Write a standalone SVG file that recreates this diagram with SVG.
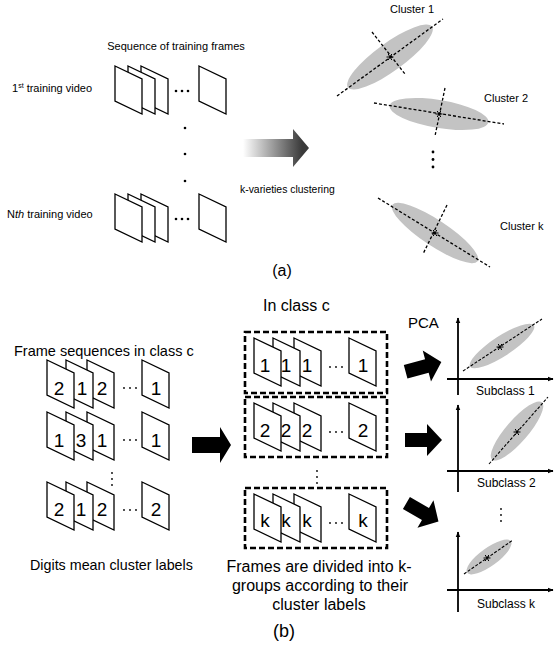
<svg xmlns="http://www.w3.org/2000/svg" xmlns:xlink="http://www.w3.org/1999/xlink" width="554" height="648" viewBox="0 0 554 648">
<style>
text{font-family:"Liberation Sans",Arial,sans-serif;fill:#000}
.frame{fill:#fff;stroke:#000;stroke-width:1.3;stroke-linejoin:miter}
.dig{font-size:19px;text-anchor:middle}
.ell{fill:#c3c3c3;stroke:none}
.dl{fill:none;stroke:#000;stroke-width:1.3;stroke-dasharray:3 2}
.dl2{fill:none;stroke:#000;stroke-width:1.1;stroke-dasharray:3 1.6}
.box{fill:none;stroke:#000;stroke-width:2.6;stroke-dasharray:6 3}
.axis{fill:none;stroke:#000;stroke-width:1.8}
.star{fill:none;stroke:#000;stroke-width:1}
.dot{fill:#000}
</style>
<defs>
<polygon id="fr" class="frame" points="0,0 27,13 27,48 0,35"/>
<path id="st" class="star" d="M-3.5,0 H3.5 M-1.8,-3 L1.8,3 M1.8,-3 L-1.8,3"/>
<path id="barrow" d="M-18,-7 H4 V-16 L19,0 L4,16 V7 H-18 Z" fill="#000"/>
<linearGradient id="grad" gradientUnits="userSpaceOnUse" x1="243" y1="0" x2="302" y2="0">
<stop offset="0" stop-color="#ffffff"/>
<stop offset="1" stop-color="#3a3a3a"/>
</linearGradient>
<marker id="ah" viewBox="0 0 10 10" refX="9" refY="5" markerWidth="6" markerHeight="6" markerUnits="userSpaceOnUse" orient="auto">
<path d="M0,1 L10,5 L0,9 Z" fill="#000"/>
</marker>
</defs>

<!-- Part (a) -->
<g id="a-title">
<text x="176" y="50" font-size="11" text-anchor="middle">Sequence of training frames</text>
</g>
<g id="a-video1">
<text x="12" y="92" font-size="11">1<tspan font-size="7" dy="-4">st</tspan><tspan dy="4"> training video</tspan></text>
<use xlink:href="#fr" x="141" y="66"/>
<use xlink:href="#fr" x="128" y="66"/>
<use xlink:href="#fr" x="115" y="66"/>
<use xlink:href="#fr" x="199" y="66"/>
<circle class="dot" cx="176" cy="91" r="1.3"/>
<circle class="dot" cx="182" cy="91" r="1.3"/>
<circle class="dot" cx="188" cy="91" r="1.3"/>
</g>
<g id="a-vdots">
<circle class="dot" cx="185" cy="128" r="1.3"/>
<circle class="dot" cx="185" cy="154" r="1.3"/>
<circle class="dot" cx="185" cy="181" r="1.3"/>
</g>
<g id="a-videoN">
<text x="7" y="218" font-size="11">N<tspan font-style="italic">th</tspan> training video</text>
<use xlink:href="#fr" x="141" y="194"/>
<use xlink:href="#fr" x="128" y="194"/>
<use xlink:href="#fr" x="115" y="194"/>
<use xlink:href="#fr" x="199" y="194"/>
<circle class="dot" cx="176" cy="219" r="1.3"/>
<circle class="dot" cx="182" cy="219" r="1.3"/>
<circle class="dot" cx="188" cy="219" r="1.3"/>
</g>
<g id="a-cluster1">
<text x="390" y="13" font-size="11">Cluster 1</text>
<ellipse class="ell" cx="390" cy="57" rx="52" ry="14" transform="rotate(-36 390 57)"/>
<line class="dl" x1="337" y1="96" x2="443" y2="19"/>
<line class="dl" x1="372" y1="32" x2="405" y2="74"/>
<use xlink:href="#st" x="390" y="57"/>
</g>
<g id="a-cluster2">
<text x="484" y="102" font-size="11">Cluster 2</text>
<ellipse class="ell" cx="439" cy="114" rx="50" ry="14" transform="rotate(9.5 439 114)"/>
<line class="dl" x1="374" y1="103" x2="504" y2="124"/>
<line class="dl" x1="445" y1="88" x2="435" y2="136"/>
<use xlink:href="#st" x="439" y="114"/>
</g>
<g id="a-cdots">
<circle class="dot" cx="433" cy="152" r="1.4"/>
<circle class="dot" cx="433" cy="159.5" r="1.4"/>
<circle class="dot" cx="433" cy="167" r="1.4"/>
</g>
<g id="a-clusterk">
<text x="500" y="230" font-size="11">Cluster k</text>
<ellipse class="ell" cx="435" cy="233" rx="51" ry="13" transform="rotate(33.5 435 233)"/>
<line class="dl" x1="378" y1="198" x2="490" y2="267"/>
<line class="dl" x1="447" y1="205" x2="423" y2="254"/>
<use xlink:href="#st" x="435" y="233"/>
</g>
<g id="a-label">
<text x="282" y="276" font-size="16" text-anchor="middle">(a)</text>
<text x="240" y="193" font-size="10.4">k-varieties clustering</text>
</g>

<!-- Part (b) -->
<g id="b-left">
<text x="14" y="356" font-size="14.5">Frame sequences in class c</text>
<use xlink:href="#fr" x="87" y="360"/>
<use xlink:href="#fr" x="66" y="360"/>
<use xlink:href="#fr" x="47" y="360"/>
<use xlink:href="#fr" x="142" y="360"/>
<text class="dig" x="59" y="395">2</text>
<text class="dig" x="82" y="395">1</text>
<text class="dig" x="102" y="395">2</text>
<text class="dig" x="156" y="395">1</text>
<circle class="dot" cx="124" cy="388" r="0.9"/>
<circle class="dot" cx="130" cy="388" r="0.9"/>
<circle class="dot" cx="136" cy="388" r="0.9"/>

<use xlink:href="#fr" x="87" y="412"/>
<use xlink:href="#fr" x="66" y="412"/>
<use xlink:href="#fr" x="47" y="412"/>
<use xlink:href="#fr" x="142" y="412"/>
<text class="dig" x="59" y="447">1</text>
<text class="dig" x="81" y="447">3</text>
<text class="dig" x="102" y="447">1</text>
<text class="dig" x="156" y="447">1</text>
<circle class="dot" cx="124" cy="440" r="0.9"/>
<circle class="dot" cx="130" cy="440" r="0.9"/>
<circle class="dot" cx="136" cy="440" r="0.9"/>

<circle class="dot" cx="112" cy="473" r="0.9"/>
<circle class="dot" cx="112" cy="479" r="0.9"/>
<circle class="dot" cx="112" cy="485" r="0.9"/>

<use xlink:href="#fr" x="87" y="482"/>
<use xlink:href="#fr" x="66" y="482"/>
<use xlink:href="#fr" x="47" y="482"/>
<use xlink:href="#fr" x="142" y="482"/>
<text class="dig" x="59" y="516">2</text>
<text class="dig" x="81" y="516">1</text>
<text class="dig" x="102" y="516">2</text>
<text class="dig" x="156" y="516">2</text>
<circle class="dot" cx="124" cy="510" r="0.9"/>
<circle class="dot" cx="130" cy="510" r="0.9"/>
<circle class="dot" cx="136" cy="510" r="0.9"/>
<text x="30" y="570" font-size="14.3">Digits mean cluster labels</text>
</g>

<g id="b-middle">
<text x="263" y="311" font-size="16">In class c</text>
<rect class="box" x="245" y="332" width="142" height="61"/>
<use xlink:href="#fr" x="294" y="338"/>
<use xlink:href="#fr" x="273" y="338"/>
<use xlink:href="#fr" x="254" y="338"/>
<use xlink:href="#fr" x="349" y="338"/>
<text class="dig" x="265" y="372">1</text>
<text class="dig" x="286" y="372">1</text>
<text class="dig" x="307" y="372">1</text>
<text class="dig" x="363" y="372">1</text>
<circle class="dot" cx="330" cy="367" r="0.9"/>
<circle class="dot" cx="336" cy="367" r="0.9"/>
<circle class="dot" cx="342" cy="367" r="0.9"/>

<rect class="box" x="245" y="397" width="142" height="60"/>
<use xlink:href="#fr" x="294" y="403"/>
<use xlink:href="#fr" x="273" y="403"/>
<use xlink:href="#fr" x="254" y="403"/>
<use xlink:href="#fr" x="349" y="403"/>
<text class="dig" x="265" y="437">2</text>
<text class="dig" x="286" y="437">2</text>
<text class="dig" x="307" y="437">2</text>
<text class="dig" x="363" y="437">2</text>
<circle class="dot" cx="330" cy="432" r="0.9"/>
<circle class="dot" cx="336" cy="432" r="0.9"/>
<circle class="dot" cx="342" cy="432" r="0.9"/>

<circle class="dot" cx="317" cy="471" r="0.9"/>
<circle class="dot" cx="317" cy="477" r="0.9"/>
<circle class="dot" cx="317" cy="483" r="0.9"/>

<rect class="box" x="245" y="488" width="142" height="60"/>
<use xlink:href="#fr" x="294" y="494"/>
<use xlink:href="#fr" x="273" y="494"/>
<use xlink:href="#fr" x="254" y="494"/>
<use xlink:href="#fr" x="349" y="494"/>
<text class="dig" x="265" y="527">k</text>
<text class="dig" x="286" y="527">k</text>
<text class="dig" x="307" y="527">k</text>
<text class="dig" x="363" y="527">k</text>
<circle class="dot" cx="330" cy="523" r="0.9"/>
<circle class="dot" cx="336" cy="523" r="0.9"/>
<circle class="dot" cx="342" cy="523" r="0.9"/>

<text x="319" y="572" font-size="16" text-anchor="middle">Frames are divided into k-</text>
<text x="320" y="591" font-size="16" text-anchor="middle">groups according to their</text>
<text x="319" y="610" font-size="16" text-anchor="middle">cluster labels</text>
</g>

<g id="b-plot1">
<text x="408" y="328" font-size="15">PCA</text>
<ellipse class="ell" cx="502" cy="346" rx="38" ry="10" transform="rotate(-33 502 346)"/>
<line class="dl2" x1="463" y1="371" x2="542" y2="319"/>
<use xlink:href="#st" x="500" y="347"/>
<line class="axis" x1="458" y1="395" x2="458" y2="318" marker-end="url(#ah)"/>
<line class="axis" x1="447" y1="379" x2="553" y2="379" marker-end="url(#ah)"/>
<text x="476" y="395" font-size="12">Subclass 1</text>
</g>
<g id="b-plot2">
<ellipse class="ell" cx="517" cy="431" rx="38" ry="11" transform="rotate(-49 517 431)"/>
<line class="dl2" x1="489" y1="464" x2="548" y2="397"/>
<use xlink:href="#st" x="517" y="432"/>
<line class="axis" x1="458" y1="492" x2="458" y2="405" marker-end="url(#ah)"/>
<line class="axis" x1="447" y1="471" x2="553" y2="471" marker-end="url(#ah)"/>
<text x="477" y="487" font-size="12">Subclass 2</text>
</g>
<g id="b-pdots">
<circle class="dot" cx="501" cy="509" r="0.9"/>
<circle class="dot" cx="501" cy="515" r="0.9"/>
<circle class="dot" cx="501" cy="521" r="0.9"/>
</g>
<g id="b-plot3">
<ellipse class="ell" cx="489" cy="557" rx="27" ry="9" transform="rotate(-36 489 557)"/>
<line class="dl2" x1="464" y1="574" x2="513" y2="540"/>
<use xlink:href="#st" x="487" y="558"/>
<line class="axis" x1="458" y1="612" x2="458" y2="532" marker-end="url(#ah)"/>
<line class="axis" x1="447" y1="590" x2="553" y2="590" marker-end="url(#ah)"/>
<text x="477" y="608" font-size="12">Subclass k</text>
</g>
<g id="b-label">
<text x="284" y="637" font-size="18" text-anchor="middle">(b)</text>
</g>

<g id="connectors">
<path d="M243,139 H293 V129 L309,148 L293,167 V157 H243 Z" fill="url(#grad)"/>
<path d="M192,437 H220 V427 L231,445 L220,463 V453 H192 Z" fill="#000"/>
<use xlink:href="#barrow" transform="translate(423,367) rotate(-15)"/>
<use xlink:href="#barrow" transform="translate(423,440)"/>
<use xlink:href="#barrow" transform="translate(422,512) rotate(30)"/>
</g>
</svg>
